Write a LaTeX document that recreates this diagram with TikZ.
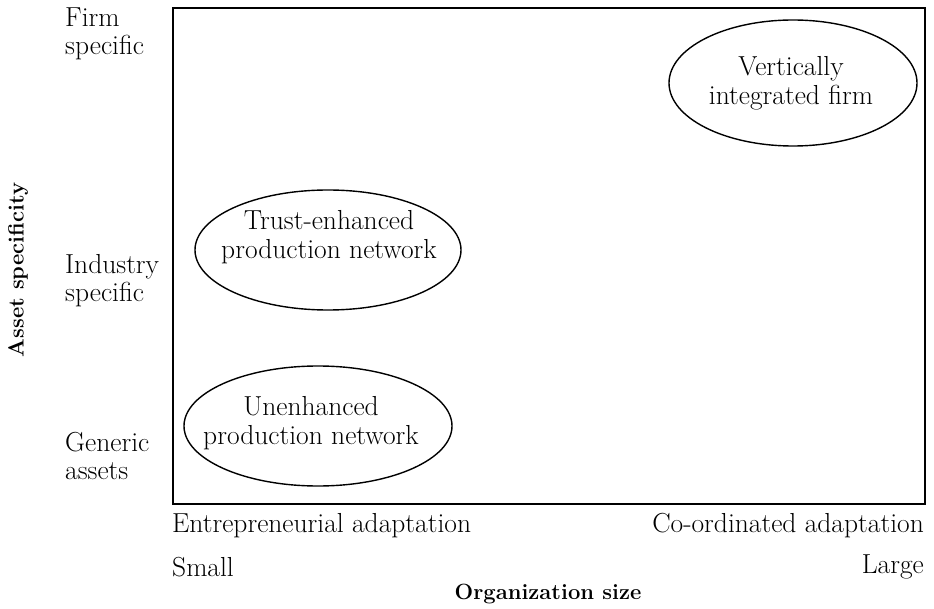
\documentclass[tikz,border=0pt]{standalone}
\begin{document}
\begin{tikzpicture}[x=1pt,y=-1pt,
  lbl/.style={font=\fontsize{27.5}{28}\selectfont, inner sep=0pt},
  blbl/.style={font=\fontsize{22}{27}\selectfont\bfseries, inner sep=0pt},
  oval/.style={line width=1.4pt},
  ovaltext/.style={font=\fontsize{27.5}{29}\selectfont, align=center, inner sep=0pt}]
\useasboundingbox (0,0) rectangle (934,609);
\node[draw, line width=2.4pt, minimum width=752pt, minimum height=496pt, inner sep=0pt, anchor=north west] (frame) at (172,7) {};
\coordinate (vifc) at (793,83);
\draw[oval] (vifc) ellipse [x radius=124, y radius=63];
\node[ovaltext] (vif) at (791,83) {Vertically\\integrated firm};
\coordinate (tenc) at (328,250);
\draw[oval] (tenc) ellipse [x radius=133, y radius=60];
\node[ovaltext] (ten) at (329,237) {Trust-enhanced\\production network};
\coordinate (upnc) at (318,426);
\draw[oval] (upnc) ellipse [x radius=134, y radius=60];
\node[ovaltext] (upn) at (311,423) {Unenhanced\\production network};
\node[lbl, align=left, anchor=west] (firm) at (65,34) {Firm\\specific};
\node[lbl, align=left, anchor=west] (ind) at (65,281) {Industry\\specific};
\node[lbl, align=left, anchor=west] (gen) at (65,456) {Generic\\assets};
\node[blbl, rotate=90] (ylab) at (18,270) {Asset specificity};
\node[lbl, anchor=west] (ent) at (172,526) {Entrepreneurial adaptation};
\node[lbl, anchor=east] (coo) at (924,526) {Co-ordinated adaptation};
\node[lbl, anchor=west] (small) at (172,567) {Small};
\node[lbl, anchor=east] (large) at (924,567) {Large};
\node[blbl] (xlab) at (548,594) {Organization size};
\end{tikzpicture}
\end{document}
